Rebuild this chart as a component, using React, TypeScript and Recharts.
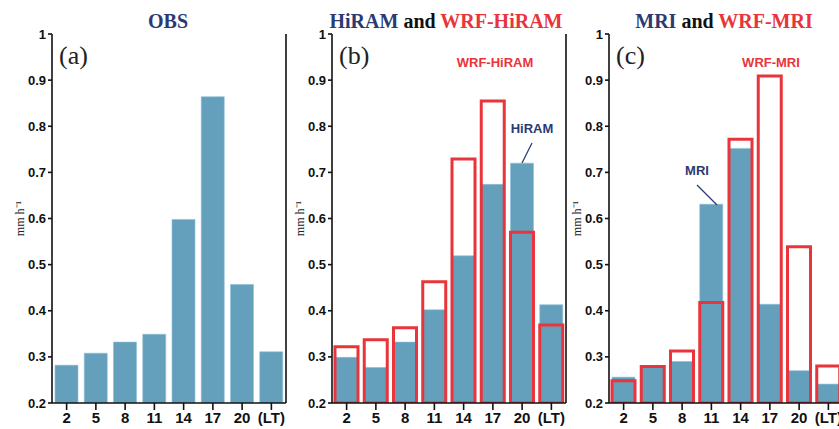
import React from "react";
import { BarChart, Bar, XAxis, YAxis } from "recharts";

const hours = ["2", "5", "8", "11", "14", "17", "20", "(LT)"];
const obs = [0.282, 0.308, 0.332, 0.349, 0.598, 0.864, 0.457, 0.311];
const hiram = [0.299, 0.277, 0.332, 0.402, 0.519, 0.674, 0.72, 0.413];
const wrfHiram = [0.322, 0.337, 0.363, 0.463, 0.729, 0.855, 0.57, 0.369];
const mri = [0.256, 0.277, 0.29, 0.631, 0.752, 0.414, 0.27, 0.241];
const wrfMri = [0.248, 0.279, 0.313, 0.418, 0.772, 0.909, 0.539, 0.28];
const yTicks = [0.2, 0.3, 0.4, 0.5, 0.6, 0.7, 0.8, 0.9, 1];

const BLUE = "#64a0bb";
const RED = "#e8343a";
const NAVY = "#2b3a72";
const SANS = "'Liberation Sans', Arial, sans-serif";
const SERIF = "'Liberation Serif', 'Times New Roman', serif";

const W = 290;
const H = 429;

type Row = { hr: string; gcm: number; wrf?: number };

function Panel({ data, left, withWrf }: { data: Row[]; left: number; withWrf: boolean }) {
  return (
    <div style={{ position: "absolute", left, top: 0, width: W, height: H }}>
      <BarChart
        width={W}
        height={H}
        data={data}
        margin={{ top: 34, right: 3, left: 8, bottom: 0 }}
        barGap={-23}
        barCategoryGap={0}
      >
        <XAxis
          dataKey="hr"
          height={26}
          stroke="#111"
          strokeWidth={1.6}
          tickSize={7}
          tickMargin={2}
          interval={0}
          tick={{ fill: "#111", fontFamily: SANS, fontWeight: 700, fontSize: 15 }}
        />
        <XAxis xAxisId="top" dataKey="hr" orientation="top" height={0} tick={false} tickLine={false} stroke="#111" strokeWidth={1.6} />
        <YAxis
          domain={[0.2, 1]}
          ticks={yTicks}
          width={44}
          stroke="#111"
          strokeWidth={1.6}
          tickSize={4}
          tickMargin={2}
          allowDataOverflow
          tickFormatter={(v: number) => (v === 1 ? "1" : v.toFixed(1))}
          tick={{ fill: "#111", fontFamily: SANS, fontWeight: 700, fontSize: 13 }}
          label={{
            value: "mm h\u207B\u00B9",
            angle: -90,
            position: "insideLeft",
            offset: 12,
            style: { textAnchor: "middle", fontFamily: SERIF, fontSize: 12, fill: "#222" },
          }}
        />
        <YAxis yAxisId="right" orientation="right" domain={[0.2, 1]} width={1} tick={false} tickLine={false} stroke="#111" strokeWidth={1.6} />
        <Bar dataKey="gcm" fill={BLUE} stroke="#8cc0d6" strokeWidth={0.6} barSize={23} isAnimationActive={false} />
        {withWrf && (
          <Bar dataKey="wrf" fill="none" stroke={RED} strokeWidth={3} barSize={23} isAnimationActive={false} />
        )}
      </BarChart>
    </div>
  );
}

function Overlay({ left, children }: { left: number; children: React.ReactNode }) {
  return (
    <svg
      width={W}
      height={H}
      style={{ position: "absolute", left, top: 0, pointerEvents: "none" }}
    >
      {children}
    </svg>
  );
}

const letterStyle = { fontFamily: SERIF, fontSize: 26, fill: "#222" };
const titleStyle = { fontFamily: SERIF, fontSize: 20, fontWeight: 700 };
const noteStyle = { fontFamily: SANS, fontSize: 13, fontWeight: 700 };

export default function App() {
  const dataA: Row[] = hours.map((hr, i) => ({ hr, gcm: obs[i] }));
  const dataB: Row[] = hours.map((hr, i) => ({ hr, gcm: hiram[i], wrf: wrfHiram[i] }));
  const dataC: Row[] = hours.map((hr, i) => ({ hr, gcm: mri[i], wrf: wrfMri[i] }));

  return (
    <div
      style={{
        position: "absolute",
        left: 0,
        top: 0,
        width: 839,
        height: 429,
        overflow: "hidden",
        background: "#fff",
      }}
    >
      <Panel data={dataA} left={0} withWrf={false} />
      <Panel data={dataB} left={280} withWrf />
      <Panel data={dataC} left={557} withWrf />

      <Overlay left={0}>
        <text x={168} y={28} textAnchor="middle" style={titleStyle} fill={NAVY}>OBS</text>
        <text x={59} y={64} style={letterStyle}>(a)</text>
      </Overlay>

      <Overlay left={280}>
        <text x={166} y={28} textAnchor="middle" style={titleStyle}>
          <tspan fill={NAVY}>HiRAM</tspan>
          <tspan fill="#111"> and </tspan>
          <tspan fill={RED}>WRF-HiRAM</tspan>
        </text>
        <text x={59} y={64} style={letterStyle}>(b)</text>
        <text x={215} y={67} textAnchor="middle" style={noteStyle} fill={RED}>WRF-HiRAM</text>
        <text x={252} y={133} textAnchor="middle" style={noteStyle} fill={NAVY}>HiRAM</text>
        <line x1={252} y1={143} x2={242} y2={163} stroke={NAVY} strokeWidth={1.2} />
      </Overlay>

      <Overlay left={557}>
        <text x={167} y={28} textAnchor="middle" style={titleStyle}>
          <tspan fill={NAVY}>MRI</tspan>
          <tspan fill="#111"> and </tspan>
          <tspan fill={RED}>WRF-MRI</tspan>
        </text>
        <text x={59} y={64} style={letterStyle}>(c)</text>
        <text x={214} y={67} textAnchor="middle" style={noteStyle} fill={RED}>WRF-MRI</text>
        <text x={140} y={175} textAnchor="middle" style={noteStyle} fill={NAVY}>MRI</text>
        <line x1={140} y1={185} x2={160} y2={205} stroke={NAVY} strokeWidth={1.2} />
      </Overlay>
    </div>
  );
}
